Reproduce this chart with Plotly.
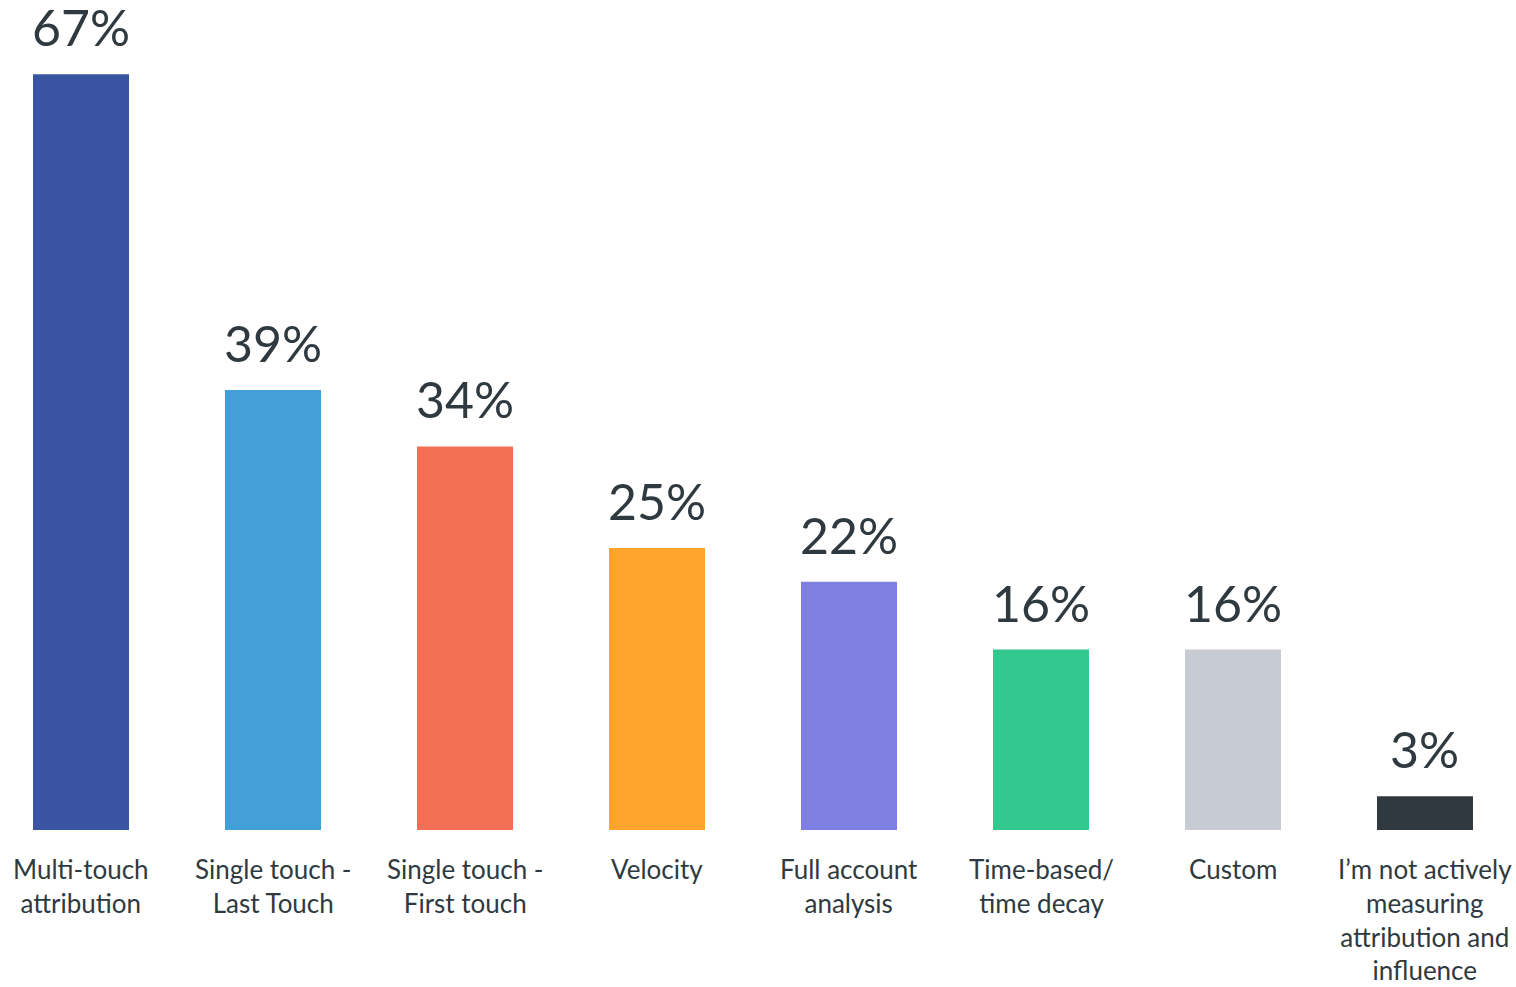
import plotly.graph_objects as go

# Attribution methods and share of respondents using each
categories = [
    "Multi-touch<br>attribution",
    "Single touch -<br>Last Touch",
    "Single touch -<br>First touch",
    "Velocity",
    "Full account<br>analysis",
    "Time-based/<br>time decay",
    "Custom",
    "I’m not actively<br>measuring<br>attribution and<br>influence",
]
values = [67, 39, 34, 25, 22, 16, 16, 3]
colors = ["#3a54a4", "#439fd8", "#f26f55", "#fea32e",
          "#7f7fe2", "#33c98e", "#c7cbd3", "#30393f"]

TEXT = "#2f3a40"
FONT = "Lato"

x = list(range(len(categories)))

fig = go.Figure(
    go.Bar(
        x=x,
        y=values,
        marker=dict(color=colors, line=dict(width=0)),
        hoverinfo="skip",
    )
)

# Value labels above each bar
for xi, v in zip(x, values):
    fig.add_annotation(
        x=xi, y=v, xref="x", yref="y",
        text=f"{v}%", showarrow=False,
        xanchor="center", yanchor="bottom", yshift=16, borderpad=0,
        font=dict(family=FONT, size=50, color=TEXT),
    )

# Category labels beneath each bar
for xi, label in zip(x, categories):
    fig.add_annotation(
        x=xi, y=0, xref="x", yref="y",
        text=label, showarrow=False,
        xanchor="center", yanchor="top", yshift=-21,
        align="center",
        font=dict(family=FONT, size=26, color=TEXT),
    )

fig.update_layout(
    width=1516, height=987,
    margin=dict(l=0, r=0, t=0, b=157),
    paper_bgcolor="white", plot_bgcolor="white",
    bargap=0.5,
    showlegend=False,
    xaxis=dict(range=[-0.4219, 7.474], showticklabels=False, showgrid=False,
               zeroline=False, showline=False, ticks=""),
    yaxis=dict(range=[0, 73.58], showticklabels=False, showgrid=False,
               zeroline=False, showline=False, ticks=""),
)

fig.write_html("out.html")
